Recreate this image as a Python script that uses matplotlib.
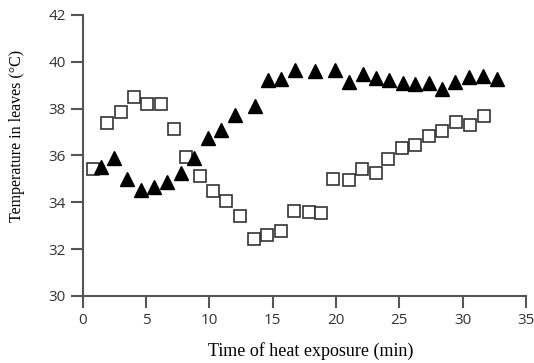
import matplotlib
matplotlib.use('Agg')
import matplotlib.pyplot as plt

# Filled triangles
tri_t = [1.47, 2.47, 3.53, 4.58, 5.63, 6.66, 7.74, 8.80, 9.85, 10.90,
         12.05, 13.60, 14.64, 15.68, 16.75, 18.33, 19.90, 21.00, 22.10, 23.14,
         24.17, 25.25, 26.27, 27.35, 28.38, 29.43, 30.51, 31.60, 32.70]
tri_temp = [35.52, 35.88, 34.98, 34.53, 34.63, 34.88, 35.24, 35.88, 36.73, 37.09,
            37.73, 38.11, 39.20, 39.27, 39.65, 39.60, 39.65, 39.15, 39.48, 39.30,
            39.22, 39.08, 39.05, 39.10, 38.83, 39.15, 39.34, 39.37, 39.27]

# Open squares
sq_t = [0.82, 1.92, 2.98, 4.06, 5.11, 6.14, 7.19, 8.13, 9.29, 10.30,
        11.35, 12.45, 13.53, 14.58, 15.64, 16.69, 17.85, 18.85, 19.77, 21.04,
        22.08, 23.14, 24.12, 25.23, 26.27, 27.35, 28.40, 29.46, 30.57, 31.67]
sq_temp = [35.41, 37.40, 37.84, 38.51, 38.20, 38.19, 37.13, 35.95, 35.10, 34.48,
           34.03, 33.43, 32.42, 32.60, 32.75, 33.63, 33.60, 33.53, 35.00, 34.95,
           35.40, 35.24, 35.84, 36.30, 36.45, 36.83, 37.02, 37.44, 37.30, 37.69]

xticks = [0, 5, 10, 15, 20, 25, 30, 35]
yticks = [30, 32, 34, 36, 38, 40, 42]

fig = plt.figure(figsize=(5.34, 3.63), dpi=100)
ax = fig.add_axes([0.155, 0.185, 0.830, 0.774])

ax.plot(sq_t, sq_temp, linestyle='none', marker='s', markersize=8.5,
        markerfacecolor='white', markeredgecolor='#333333', markeredgewidth=1.2)
ax.plot(tri_t, tri_temp, linestyle='none', marker='^', markersize=10,
        color='black')

ax.set_xlim(0, 35)
ax.set_ylim(30, 42)
ax.set_xticks(xticks)
ax.set_yticks(yticks)

for s in ['top', 'right']:
    ax.spines[s].set_visible(False)
for s in ['left', 'bottom']:
    ax.spines[s].set_color('#555555')
    ax.spines[s].set_linewidth(1.5)

ax.tick_params(direction='out', length=8.5, width=1.5, color='#555555',
               labelsize=11, labelcolor='#333333', pad=3.5)
for lbl in ax.get_xticklabels() + ax.get_yticklabels():
    lbl.set_family('Open Sans')

ax.set_xlabel('Time of heat exposure (min)', family='Liberation Serif',
              fontsize=13)
ax.set_ylabel('Temperature in leaves (°C)', family='Liberation Serif',
              fontsize=11.5)
# label positions in axes coords
ax.xaxis.set_label_coords(0.515, -0.163)
ax.yaxis.set_label_coords(-0.131, 0.57)

fig.savefig('out.png', dpi=100)
plt.close()
